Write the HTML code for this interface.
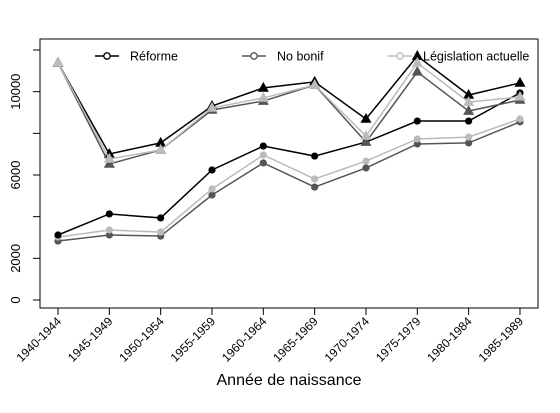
<!DOCTYPE html>
<html><head><meta charset="utf-8"><style>body{margin:0;background:#fff}svg{font-family:"Liberation Sans",Arial,sans-serif}</style></head>
<body>
<svg id="c" width="560" height="408"></svg>
<script>
const categories=["1940-1944","1945-1949","1950-1954","1955-1959","1960-1964","1965-1969","1970-1974","1975-1979","1980-1984","1985-1989"];
const reformeLow=[3120,4130,3940,6240,7390,6910,7580,8590,8590,9940];
const nobonifLow=[2830,3120,3070,5040,6580,5420,6340,7490,7540,8550];
const legisLow=[3020,3360,3260,5330,6960,5810,6670,7730,7820,8690];
const reformeHigh=[11380,7010,7540,9310,10180,10470,8690,11710,9840,10420];
const nobonifHigh=[11380,6530,7200,9120,9550,10320,7580,10950,9070,9600];
const legisHigh=[11380,6770,7200,9220,9700,10320,7870,11380,9500,9750];
const yTicks=[0,2000,4000,6000,8000,10000,12000];
const yLabels=["0","2000","","6000","","10000",""];
const seriesNames=["Réforme","No bonif","Législation actuelle"];
const NS="http://www.w3.org/2000/svg";
const svg=document.getElementById('c');
const X=i=>58+i*51.33, Y=v=>300-v*0.020833;
function el(t,a,p){const e=document.createElementNS(NS,t);for(const k in a)e.setAttribute(k,a[k]);(p||svg).appendChild(e);return e;}
const box=el('rect',{x:40,y:39,width:498,height:269,fill:'none',stroke:'#000'});


yTicks.forEach((v,i)=>{
  const t=el('line',{x1:33,x2:40,y1:Y(v),y2:Y(v),stroke:'#000'});
  
  
  if(yLabels[i]){const l=el('text',{x:20,y:Y(v),'font-size':13,'text-anchor':'middle',transform:`rotate(-90 20 ${Y(v)})`});l.textContent=yLabels[i];
  
  }
});
categories.forEach((c,i)=>{
  const t=el('line',{x1:X(i),x2:X(i),y1:308,y2:315,stroke:'#000'});
  
  
  const l=el('text',{x:X(i)+4,y:322,'font-size':12,'text-anchor':'end',transform:`rotate(-45 ${X(i)+4} 322)`});l.textContent=c;
  
  
});
const xt=el('text',{x:289,y:385,'font-size':16,'text-anchor':'middle'});xt.textContent="Année de naissance";


function series(vals,col,shape,name){
  const g=el('g',{});
  
  
  el('polyline',{points:vals.map((v,i)=>X(i)+','+Y(v)).join(' '),fill:'none',stroke:col,'stroke-width':1.5},g);
  vals.forEach((v,i)=>{
    const x=X(i),y=Y(v);
    if(shape==='c')el('circle',{cx:x,cy:y,r:3.6,fill:col},g);
    else el('polygon',{points:`${x},${y-6} ${x-5.5},${y+3.8} ${x+5.5},${y+3.8}`,fill:col},g);
  });
}
series(nobonifLow,'#555','c','series-nobonif-low');
series(legisLow,'#bbb','c','series-legislation-low');
series(reformeLow,'#000','c','series-reforme-low');
series(reformeHigh,'#000','t','series-reforme-high');
series(nobonifHigh,'#555','t','series-nobonif-high');
series(legisHigh,'#bbb','t','series-legislation-high');
const lx=[95,242,388],lc=['#000','#555','#bbb'];
seriesNames.forEach((n,i)=>{
  const g=el('g',{});
  
  
  el('line',{x1:lx[i],x2:lx[i]+24,y1:56,y2:56,stroke:lc[i],'stroke-width':1.5},g);
  el('circle',{cx:lx[i]+12,cy:56,r:3.2,fill:'#fff',stroke:lc[i],'stroke-width':1.3},g);
  const t=el('text',{x:lx[i]+35,y:60.5,'font-size':12.5},g);t.textContent=n;
});
</script>
</body></html>
